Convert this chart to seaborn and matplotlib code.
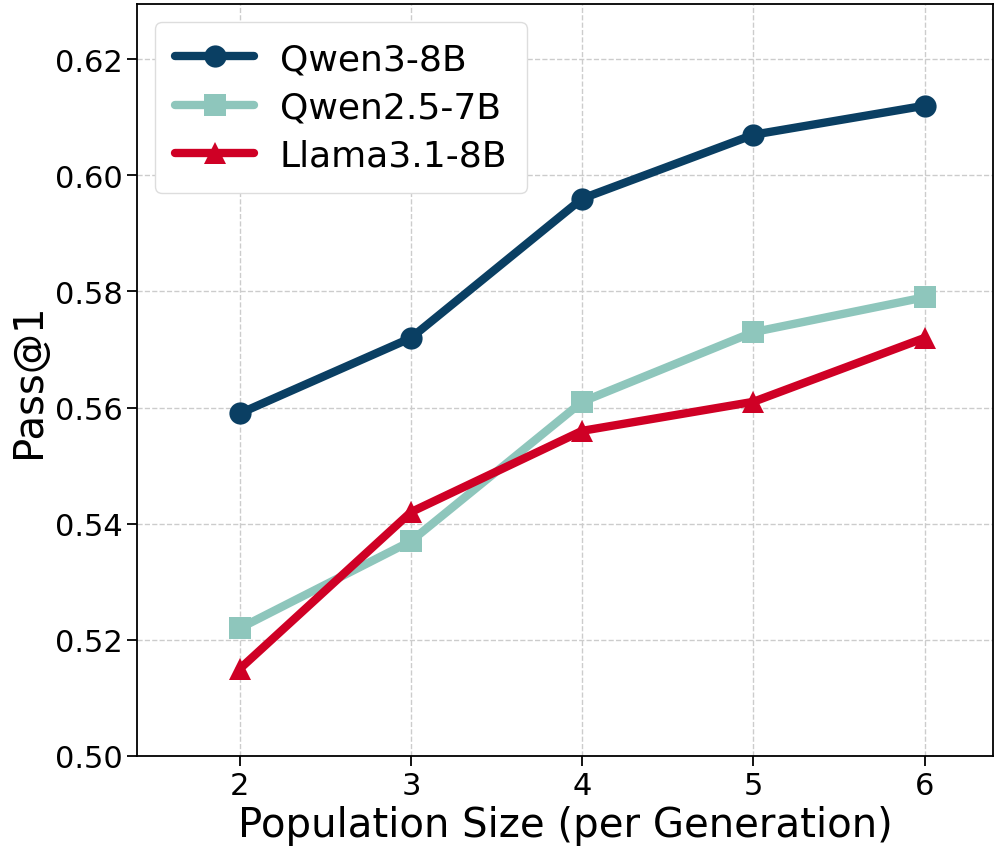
import numpy as np
import pandas as pd
import matplotlib
matplotlib.use("Agg")
import matplotlib.pyplot as plt
import seaborn as sns

sizes = [2, 3, 4, 5, 6]
qwen3 = [0.559, 0.572, 0.596, 0.607, 0.612]
qwen25 = [0.522, 0.537, 0.561, 0.573, 0.579]
llama = [0.515, 0.542, 0.556, 0.561, 0.572]

models = ["Qwen3-8B", "Qwen2.5-7B", "Llama3.1-8B"]
colors = ["#0A3F63", "#8EC6BC", "#CF0025"]
markers = ["o", "s", "^"]

df = pd.DataFrame({
    "size": sizes * 3,
    "pass": qwen3 + qwen25 + llama,
    "model": [m for m in models for _ in sizes],
})

sns.set_style("ticks")
plt.rcParams["font.family"] = ["DejaVu Sans"]
plt.rcParams["text.color"] = "black"
plt.rcParams["axes.labelcolor"] = "black"
plt.rcParams["xtick.color"] = "black"
plt.rcParams["ytick.color"] = "black"
plt.rcParams["axes.edgecolor"] = "black"

fig = plt.figure(figsize=(9.96, 8.53), dpi=100)
ax = fig.add_axes([0.1376, 0.1126, 0.8594, 0.8814])

for m, c, mk in zip(models, colors, markers):
    sub = df[df["model"] == m]
    sns.lineplot(data=sub, x="size", y="pass", ax=ax, color=c, marker=mk,
                 markersize=16, linewidth=6, markeredgewidth=0, label=m)

ax.set_xlim(1.4, 6.4)
ax.set_ylim(0.50, 0.6295)
ax.set_xticks(sizes)
ax.set_yticks([0.50, 0.52, 0.54, 0.56, 0.58, 0.60, 0.62])
ax.set_yticklabels(["0.50", "0.52", "0.54", "0.56", "0.58", "0.60", "0.62"])
ax.grid(True, linestyle="--", color="#cccccc", linewidth=1)
ax.tick_params(labelsize=22, length=7, width=1.3)
for s in ax.spines.values():
    s.set_linewidth(1.3)
ax.set_xlabel("Population Size (per Generation)", fontsize=29)
ax.set_ylabel("Pass@1", fontsize=29)
ax.legend(loc="upper left", fontsize=26, handlelength=2.2, borderpad=0.55,
          labelspacing=0.4, handletextpad=0.7, framealpha=1, edgecolor="#dddddd")

fig.savefig("out.png", dpi=100)
